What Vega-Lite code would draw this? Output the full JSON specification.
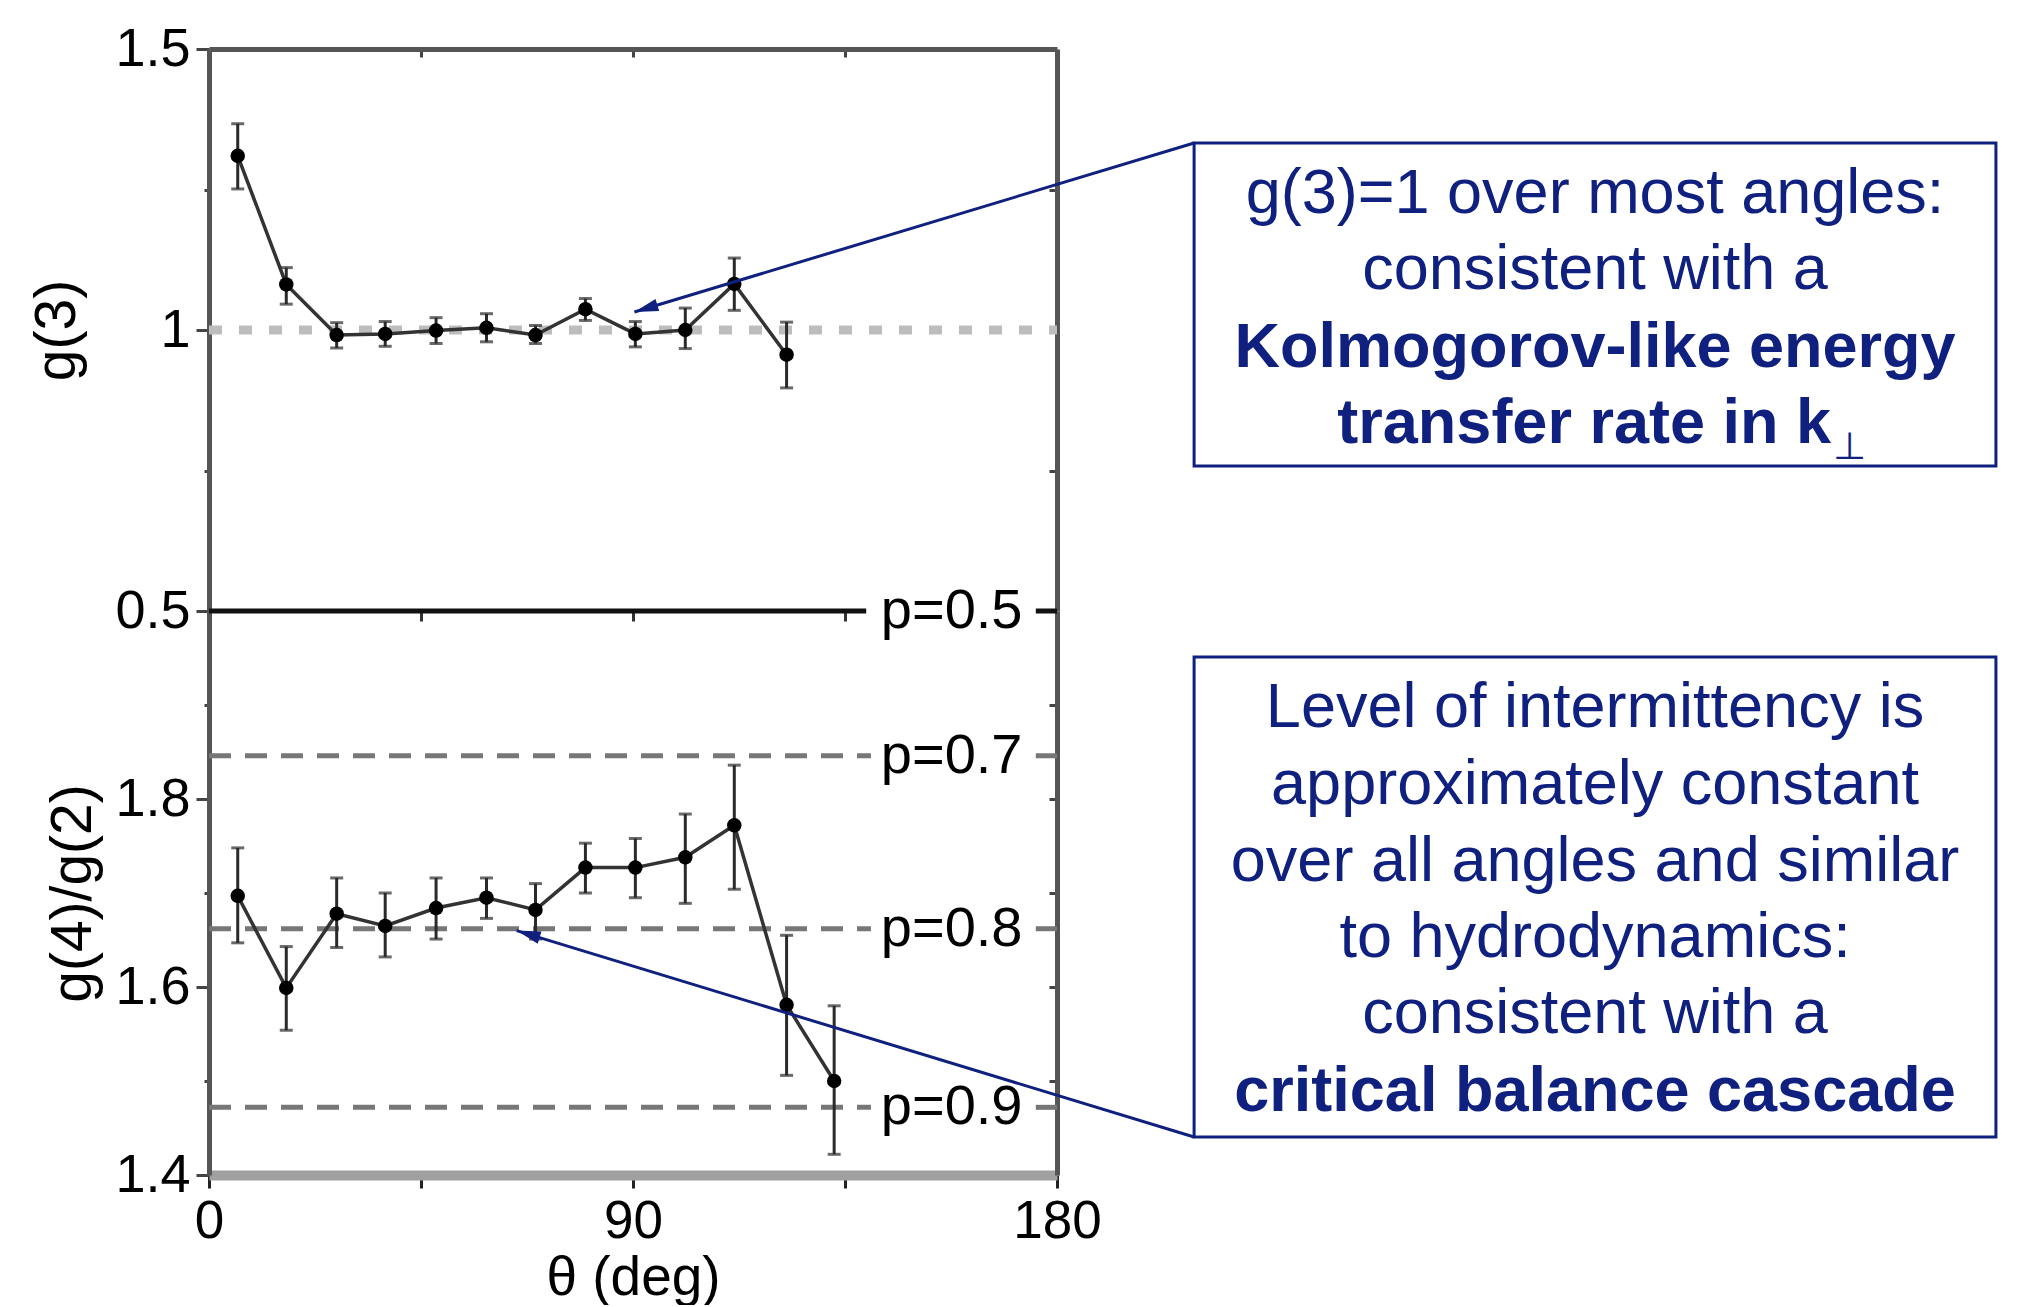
{
  "$schema": "https://vega.github.io/schema/vega-lite/v6.json",
  "background": "white",
  "padding": {"left": 28, "top": 22, "right": 5, "bottom": 0},
  "spacing": 0,
  "bounds": "flush",
  "config": {
    "view": {"stroke": null},
    "font": "Liberation Sans",
    "axis": {"labelFont": "Liberation Sans", "titleFont": "Liberation Sans", "grid": false, "labelFlush": false, "labelOverlap": false, "labelBound": false}
  },
  "datasets": {
    "g3": [
      {"x": 6.1, "y": 1.310, "lo": 1.251, "hi": 1.367},
      {"x": 16.4, "y": 1.081, "lo": 1.046, "hi": 1.111},
      {"x": 27.1, "y": 0.991, "lo": 0.968, "hi": 1.013},
      {"x": 37.4, "y": 0.993, "lo": 0.971, "hi": 1.015},
      {"x": 48.2, "y": 0.999, "lo": 0.976, "hi": 1.022},
      {"x": 58.9, "y": 1.004, "lo": 0.979, "hi": 1.029},
      {"x": 69.3, "y": 0.991, "lo": 0.976, "hi": 1.008},
      {"x": 79.9, "y": 1.037, "lo": 1.017, "hi": 1.056},
      {"x": 90.5, "y": 0.993, "lo": 0.970, "hi": 1.015},
      {"x": 101.1, "y": 1.000, "lo": 0.967, "hi": 1.039},
      {"x": 111.5, "y": 1.082, "lo": 1.035, "hi": 1.128},
      {"x": 122.6, "y": 0.956, "lo": 0.897, "hi": 1.014}
    ],
    "g42": [
      {"x": 6.1, "y": 1.697, "lo": 1.647, "hi": 1.748},
      {"x": 16.4, "y": 1.599, "lo": 1.554, "hi": 1.643},
      {"x": 27.1, "y": 1.678, "lo": 1.642, "hi": 1.716},
      {"x": 37.4, "y": 1.665, "lo": 1.632, "hi": 1.700},
      {"x": 48.2, "y": 1.684, "lo": 1.651, "hi": 1.716},
      {"x": 58.9, "y": 1.695, "lo": 1.673, "hi": 1.716},
      {"x": 69.3, "y": 1.682, "lo": 1.651, "hi": 1.710},
      {"x": 79.9, "y": 1.727, "lo": 1.700, "hi": 1.753},
      {"x": 90.5, "y": 1.727, "lo": 1.695, "hi": 1.758},
      {"x": 101.1, "y": 1.738, "lo": 1.689, "hi": 1.784},
      {"x": 111.5, "y": 1.772, "lo": 1.704, "hi": 1.836},
      {"x": 122.6, "y": 1.581, "lo": 1.506, "hi": 1.655},
      {"x": 132.7, "y": 1.500, "lo": 1.422, "hi": 1.580}
    ],
    "ref1": [{"x": 0, "x2": 180, "y": 1}],
    "plines": [
      {"x": 0, "x2": 140.5, "y": 1.846},
      {"x": 175.5, "x2": 180, "y": 1.846},
      {"x": 0, "x2": 140.5, "y": 1.662},
      {"x": 175.5, "x2": 180, "y": 1.662},
      {"x": 0, "x2": 140.5, "y": 1.472},
      {"x": 175.5, "x2": 180, "y": 1.472}
    ],
    "bound": [
      {"x": 0, "x2": 139.5, "y": 2.0},
      {"x": 175.5, "x2": 180, "y": 2.0}
    ],
    "plabels": [
      {"x": 142.6, "y": 2.0, "t": "p=0.5"},
      {"x": 142.6, "y": 1.846, "t": "p=0.7"},
      {"x": 142.6, "y": 1.662, "t": "p=0.8"},
      {"x": 142.6, "y": 1.472, "t": "p=0.9"}
    ],
    "box1": [{"x": 209.1, "x2": 379.3, "y": 1.3327, "y2": 0.758}],
    "box2": [{"x": 209.1, "x2": 379.3, "y": 1.9511, "y2": 1.4404}],
    "arrow1": [{"x": 209.1, "y": 1.3327, "x2": 90.3, "y2": 1.032}],
    "arrow2": [{"x": 209.1, "y": 1.4404, "x2": 65.3, "y2": 1.660}],
    "notes1": [
      {"x": 294.2, "y": 1.2087, "t": "g(3)=1 over most angles:", "s": "r"},
      {"x": 294.2, "y": 1.0730, "t": "consistent with a", "s": "r"},
      {"x": 294.2, "y": 0.9342, "t": "Kolmogorov-like energy", "s": "b"},
      {"x": 344.3, "y": 0.7989, "t": "transfer rate in k", "s": "br"},
      {"x": 344.7, "y": 0.7705, "t": "⊥", "s": "sub"}
    ],
    "notes2": [
      {"x": 294.2, "y": 1.8766, "t": "Level of intermittency is", "s": "r"},
      {"x": 294.2, "y": 1.7947, "t": "approximately constant", "s": "r"},
      {"x": 294.2, "y": 1.7128, "t": "over all angles and similar", "s": "r"},
      {"x": 294.2, "y": 1.6319, "t": "to hydrodynamics:", "s": "r"},
      {"x": 294.2, "y": 1.5511, "t": "consistent with a", "s": "r"},
      {"x": 294.2, "y": 1.4681, "t": "critical balance cascade", "s": "b"}
    ]
  },
  "vconcat": [
    {
      "width": 848,
      "height": 562,
      "resolve": {"axis": {"x": "independent", "y": "independent"}},
      "layer": [
        {
          "data": {"name": "ref1"},
          "mark": {"type": "rule", "color": "#bdbdbd", "strokeWidth": 9, "strokeDash": [13, 17]},
          "encoding": {
            "x": {"field": "x", "type": "quantitative", "scale": {"domain": [0, 180], "nice": false, "zero": false},
              "axis": {"orient": "top", "values": [45, 90, 135], "labels": false, "title": null, "tickSize": -8, "tickColor": "#444", "tickWidth": 3, "domainColor": "#555", "domainWidth": 5}},
            "x2": {"field": "x2"},
            "y": {"field": "y", "type": "quantitative", "scale": {"domain": [0.5, 1.5], "nice": false, "zero": false},
              "axis": {"orient": "left", "values": [0.5, 0.75, 1, 1.25, 1.5],
                "labelExpr": "datum.value == 0.75 || datum.value == 1.25 ? '' : '' + datum.value",
                "tickSize": {"condition": {"test": "datum.value == 0.75 || datum.value == 1.25", "value": 5}, "value": 13},
                "tickColor": "#444", "tickWidth": 3, "domainColor": "#555", "domainWidth": 5,
                "labelFontSize": 54, "labelColor": "#000", "labelPadding": 6,
                "title": "g(3)", "titleFontSize": 57, "titleFontWeight": "normal", "titleColor": "#000", "titlePadding": 28}}
          }
        },
        {
          "data": {"name": "g3"},
          "mark": {"type": "rule", "color": "#2a2a2a", "strokeWidth": 3},
          "encoding": {
            "x": {"field": "x", "type": "quantitative", "scale": {"domain": [0, 180], "nice": false, "zero": false}, "axis": null},
            "y": {"field": "lo", "type": "quantitative", "scale": {"domain": [0.5, 1.5], "nice": false, "zero": false},
              "axis": {"orient": "right", "values": [0.75, 1, 1.25], "labels": false, "title": null, "tickSize": -8, "tickColor": "#444", "tickWidth": 3, "domainColor": "#555", "domainWidth": 5}},
            "y2": {"field": "hi"}
          }
        },
        {
          "data": {"name": "g3"},
          "mark": {"type": "tick", "orient": "horizontal", "color": "#2a2a2a", "size": 13, "thickness": 3},
          "encoding": {
            "x": {"field": "x", "type": "quantitative", "scale": {"domain": [0, 180], "nice": false, "zero": false}, "axis": null},
            "y": {"field": "lo", "type": "quantitative", "scale": {"domain": [0.5, 1.5], "nice": false, "zero": false}, "axis": null}
          }
        },
        {
          "data": {"name": "g3"},
          "mark": {"type": "tick", "orient": "horizontal", "color": "#2a2a2a", "size": 13, "thickness": 3},
          "encoding": {
            "x": {"field": "x", "type": "quantitative", "scale": {"domain": [0, 180], "nice": false, "zero": false}, "axis": null},
            "y": {"field": "hi", "type": "quantitative", "scale": {"domain": [0.5, 1.5], "nice": false, "zero": false}, "axis": null}
          }
        },
        {
          "data": {"name": "g3"},
          "mark": {"type": "line", "color": "#333", "strokeWidth": 3.5},
          "encoding": {
            "x": {"field": "x", "type": "quantitative", "scale": {"domain": [0, 180], "nice": false, "zero": false}, "axis": null},
            "y": {"field": "y", "type": "quantitative", "scale": {"domain": [0.5, 1.5], "nice": false, "zero": false}, "axis": null}
          }
        },
        {
          "data": {"name": "g3"},
          "mark": {"type": "point", "filled": true, "color": "#000", "size": 210, "opacity": 1},
          "encoding": {
            "x": {"field": "x", "type": "quantitative", "scale": {"domain": [0, 180], "nice": false, "zero": false}, "axis": null},
            "y": {"field": "y", "type": "quantitative", "scale": {"domain": [0.5, 1.5], "nice": false, "zero": false}, "axis": null}
          }
        },
        {
          "data": {"name": "box1"},
          "mark": {"type": "rect", "fill": null, "stroke": "#10207f", "strokeWidth": 3},
          "encoding": {
            "x": {"field": "x", "type": "quantitative", "scale": {"domain": [0, 180], "nice": false, "zero": false}, "axis": null},
            "x2": {"field": "x2"},
            "y": {"field": "y", "type": "quantitative", "scale": {"domain": [0.5, 1.5], "nice": false, "zero": false}, "axis": null},
            "y2": {"field": "y2"}
          }
        },
        {
          "data": {"name": "arrow1"},
          "mark": {"type": "rule", "color": "#10207f", "strokeWidth": 3},
          "encoding": {
            "x": {"field": "x", "type": "quantitative", "scale": {"domain": [0, 180], "nice": false, "zero": false}, "axis": null},
            "x2": {"field": "x2"},
            "y": {"field": "y", "type": "quantitative", "scale": {"domain": [0.5, 1.5], "nice": false, "zero": false}, "axis": null},
            "y2": {"field": "y2"}
          }
        },
        {
          "data": {"name": "arrow1"},
          "mark": {"type": "point", "filled": true, "color": "#10207f", "opacity": 1, "size": 900, "shape": "M0,0L0.42,1.6L-0.42,1.6Z", "angle": 253},
          "encoding": {
            "x": {"field": "x2", "type": "quantitative", "scale": {"domain": [0, 180], "nice": false, "zero": false}, "axis": null},
            "y": {"field": "y2", "type": "quantitative", "scale": {"domain": [0.5, 1.5], "nice": false, "zero": false}, "axis": null}
          }
        },
        {
          "data": {"name": "notes1"},
          "transform": [{"filter": "datum.s == 'r'"}],
          "mark": {"type": "text", "align": "center", "baseline": "alphabetic", "font": "Liberation Sans", "fontSize": 63, "color": "#10207f"},
          "encoding": {
            "x": {"field": "x", "type": "quantitative", "scale": {"domain": [0, 180], "nice": false, "zero": false}, "axis": null},
            "y": {"field": "y", "type": "quantitative", "scale": {"domain": [0.5, 1.5], "nice": false, "zero": false}, "axis": null},
            "text": {"field": "t"}
          }
        },
        {
          "data": {"name": "notes1"},
          "transform": [{"filter": "datum.s == 'b'"}],
          "mark": {"type": "text", "align": "center", "baseline": "alphabetic", "font": "Liberation Sans", "fontSize": 63, "fontWeight": "bold", "color": "#10207f"},
          "encoding": {
            "x": {"field": "x", "type": "quantitative", "scale": {"domain": [0, 180], "nice": false, "zero": false}, "axis": null},
            "y": {"field": "y", "type": "quantitative", "scale": {"domain": [0.5, 1.5], "nice": false, "zero": false}, "axis": null},
            "text": {"field": "t"}
          }
        },
        {
          "data": {"name": "notes1"},
          "transform": [{"filter": "datum.s == 'br'"}],
          "mark": {"type": "text", "align": "right", "baseline": "alphabetic", "font": "Liberation Sans", "fontSize": 63, "fontWeight": "bold", "color": "#10207f"},
          "encoding": {
            "x": {"field": "x", "type": "quantitative", "scale": {"domain": [0, 180], "nice": false, "zero": false}, "axis": null},
            "y": {"field": "y", "type": "quantitative", "scale": {"domain": [0.5, 1.5], "nice": false, "zero": false}, "axis": null},
            "text": {"field": "t"}
          }
        },
        {
          "data": {"name": "notes1"},
          "transform": [{"filter": "datum.s == 'sub'"}],
          "mark": {"type": "text", "align": "left", "baseline": "alphabetic", "font": "DejaVu Sans", "fontSize": 38, "color": "#10207f"},
          "encoding": {
            "x": {"field": "x", "type": "quantitative", "scale": {"domain": [0, 180], "nice": false, "zero": false}, "axis": null},
            "y": {"field": "y", "type": "quantitative", "scale": {"domain": [0.5, 1.5], "nice": false, "zero": false}, "axis": null},
            "text": {"field": "t"}
          }
        }
      ]
    },
    {
      "width": 848,
      "height": 564,
      "resolve": {"axis": {"x": "independent", "y": "independent"}},
      "layer": [
        {
          "data": {"name": "plines"},
          "mark": {"type": "rule", "color": "#777", "strokeWidth": 5, "strokeDash": [22, 14]},
          "encoding": {
            "x": {"field": "x", "type": "quantitative", "scale": {"domain": [0, 180], "nice": false, "zero": false},
              "axis": {"orient": "bottom", "values": [0, 45, 90, 135, 180],
                "labelExpr": "datum.value % 90 == 0 ? '' + datum.value : ''",
                "tickSize": 13, "tickColor": "#222", "tickWidth": 3, "domainColor": "#a0a0a0", "domainWidth": 10,
                "labelFontSize": 53, "labelColor": "#000", "labelPadding": 7,
                "title": "θ (deg)", "titleFontSize": 55, "titleFontWeight": "normal", "titleColor": "#000", "titlePadding": 3}},
            "x2": {"field": "x2"},
            "y": {"field": "y", "type": "quantitative", "scale": {"domain": [1.4, 2.0], "nice": false, "zero": false},
              "axis": {"orient": "left", "values": [1.4, 1.5, 1.6, 1.7, 1.8, 1.9],
                "labelExpr": "datum.value == 1.4 || datum.value == 1.6 || datum.value == 1.8 ? '' + datum.value : ''",
                "tickSize": {"condition": {"test": "datum.value == 1.5 || datum.value == 1.7 || datum.value == 1.9", "value": 5}, "value": 13},
                "tickColor": "#444", "tickWidth": 3, "domainColor": "#555", "domainWidth": 5,
                "labelFontSize": 54, "labelColor": "#000", "labelPadding": 6,
                "title": "g(4)/g(2)", "titleFontSize": 57, "titleFontWeight": "normal", "titleColor": "#000", "titlePadding": 12}}
          }
        },
        {
          "data": {"name": "bound"},
          "mark": {"type": "rule", "color": "#111", "strokeWidth": 5},
          "encoding": {
            "x": {"field": "x", "type": "quantitative", "scale": {"domain": [0, 180], "nice": false, "zero": false},
              "axis": {"orient": "top", "values": [45, 90, 135], "labels": false, "title": null, "domain": false, "tickSize": -10, "tickColor": "#333", "tickWidth": 3}},
            "x2": {"field": "x2"},
            "y": {"field": "y", "type": "quantitative", "scale": {"domain": [1.4, 2.0], "nice": false, "zero": false},
              "axis": {"orient": "right", "values": [1.5, 1.6, 1.7, 1.8, 1.9], "labels": false, "title": null, "tickSize": -8, "tickColor": "#444", "tickWidth": 3, "domainColor": "#555", "domainWidth": 5}}
          }
        },
        {
          "data": {"name": "plabels"},
          "mark": {"type": "text", "align": "left", "baseline": "middle", "font": "Liberation Sans", "fontSize": 56, "color": "#000"},
          "encoding": {
            "x": {"field": "x", "type": "quantitative", "scale": {"domain": [0, 180], "nice": false, "zero": false}, "axis": null},
            "y": {"field": "y", "type": "quantitative", "scale": {"domain": [1.4, 2.0], "nice": false, "zero": false}, "axis": null},
            "text": {"field": "t"}
          }
        },
        {
          "data": {"name": "g42"},
          "mark": {"type": "rule", "color": "#2a2a2a", "strokeWidth": 3},
          "encoding": {
            "x": {"field": "x", "type": "quantitative", "scale": {"domain": [0, 180], "nice": false, "zero": false}, "axis": null},
            "y": {"field": "lo", "type": "quantitative", "scale": {"domain": [1.4, 2.0], "nice": false, "zero": false}, "axis": null},
            "y2": {"field": "hi"}
          }
        },
        {
          "data": {"name": "g42"},
          "mark": {"type": "tick", "orient": "horizontal", "color": "#2a2a2a", "size": 13, "thickness": 3},
          "encoding": {
            "x": {"field": "x", "type": "quantitative", "scale": {"domain": [0, 180], "nice": false, "zero": false}, "axis": null},
            "y": {"field": "lo", "type": "quantitative", "scale": {"domain": [1.4, 2.0], "nice": false, "zero": false}, "axis": null}
          }
        },
        {
          "data": {"name": "g42"},
          "mark": {"type": "tick", "orient": "horizontal", "color": "#2a2a2a", "size": 13, "thickness": 3},
          "encoding": {
            "x": {"field": "x", "type": "quantitative", "scale": {"domain": [0, 180], "nice": false, "zero": false}, "axis": null},
            "y": {"field": "hi", "type": "quantitative", "scale": {"domain": [1.4, 2.0], "nice": false, "zero": false}, "axis": null}
          }
        },
        {
          "data": {"name": "g42"},
          "mark": {"type": "line", "color": "#333", "strokeWidth": 3.5},
          "encoding": {
            "x": {"field": "x", "type": "quantitative", "scale": {"domain": [0, 180], "nice": false, "zero": false}, "axis": null},
            "y": {"field": "y", "type": "quantitative", "scale": {"domain": [1.4, 2.0], "nice": false, "zero": false}, "axis": null}
          }
        },
        {
          "data": {"name": "g42"},
          "mark": {"type": "point", "filled": true, "color": "#000", "size": 210, "opacity": 1},
          "encoding": {
            "x": {"field": "x", "type": "quantitative", "scale": {"domain": [0, 180], "nice": false, "zero": false}, "axis": null},
            "y": {"field": "y", "type": "quantitative", "scale": {"domain": [1.4, 2.0], "nice": false, "zero": false}, "axis": null}
          }
        },
        {
          "data": {"name": "box2"},
          "mark": {"type": "rect", "fill": null, "stroke": "#10207f", "strokeWidth": 3},
          "encoding": {
            "x": {"field": "x", "type": "quantitative", "scale": {"domain": [0, 180], "nice": false, "zero": false}, "axis": null},
            "x2": {"field": "x2"},
            "y": {"field": "y", "type": "quantitative", "scale": {"domain": [1.4, 2.0], "nice": false, "zero": false}, "axis": null},
            "y2": {"field": "y2"}
          }
        },
        {
          "data": {"name": "arrow2"},
          "mark": {"type": "rule", "color": "#10207f", "strokeWidth": 3},
          "encoding": {
            "x": {"field": "x", "type": "quantitative", "scale": {"domain": [0, 180], "nice": false, "zero": false}, "axis": null},
            "x2": {"field": "x2"},
            "y": {"field": "y", "type": "quantitative", "scale": {"domain": [1.4, 2.0], "nice": false, "zero": false}, "axis": null},
            "y2": {"field": "y2"}
          }
        },
        {
          "data": {"name": "arrow2"},
          "mark": {"type": "point", "filled": true, "color": "#10207f", "opacity": 1, "size": 900, "shape": "M0,0L0.42,1.6L-0.42,1.6Z", "angle": 287},
          "encoding": {
            "x": {"field": "x2", "type": "quantitative", "scale": {"domain": [0, 180], "nice": false, "zero": false}, "axis": null},
            "y": {"field": "y2", "type": "quantitative", "scale": {"domain": [1.4, 2.0], "nice": false, "zero": false}, "axis": null}
          }
        },
        {
          "data": {"name": "notes2"},
          "transform": [{"filter": "datum.s == 'r'"}],
          "mark": {"type": "text", "align": "center", "baseline": "alphabetic", "font": "Liberation Sans", "fontSize": 63, "color": "#10207f"},
          "encoding": {
            "x": {"field": "x", "type": "quantitative", "scale": {"domain": [0, 180], "nice": false, "zero": false}, "axis": null},
            "y": {"field": "y", "type": "quantitative", "scale": {"domain": [1.4, 2.0], "nice": false, "zero": false}, "axis": null},
            "text": {"field": "t"}
          }
        },
        {
          "data": {"name": "notes2"},
          "transform": [{"filter": "datum.s == 'b'"}],
          "mark": {"type": "text", "align": "center", "baseline": "alphabetic", "font": "Liberation Sans", "fontSize": 63, "fontWeight": "bold", "color": "#10207f"},
          "encoding": {
            "x": {"field": "x", "type": "quantitative", "scale": {"domain": [0, 180], "nice": false, "zero": false}, "axis": null},
            "y": {"field": "y", "type": "quantitative", "scale": {"domain": [1.4, 2.0], "nice": false, "zero": false}, "axis": null},
            "text": {"field": "t"}
          }
        }
      ]
    }
  ]
}
